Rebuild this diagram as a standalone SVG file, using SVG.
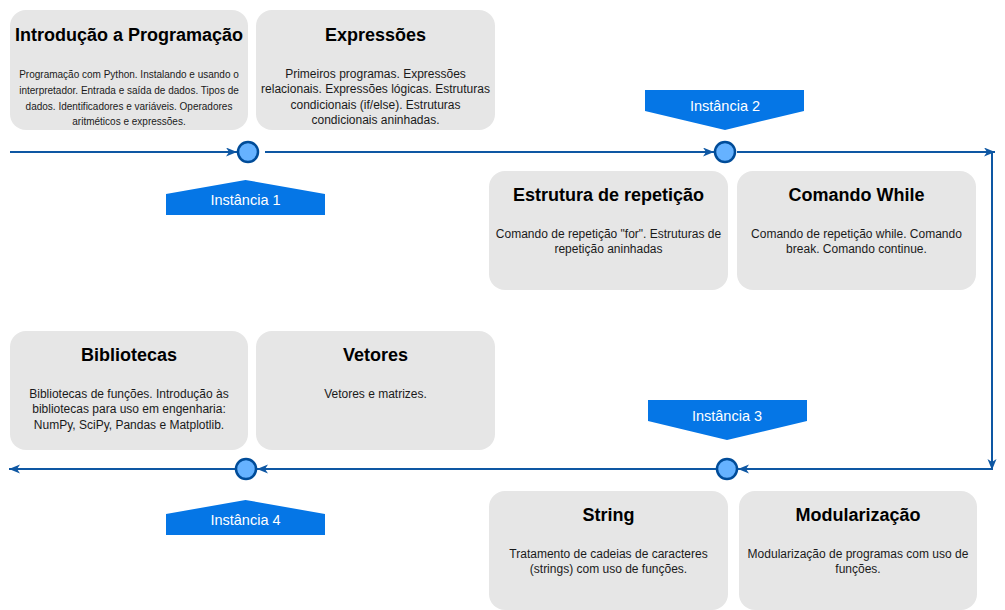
<svg xmlns="http://www.w3.org/2000/svg" width="1005" height="610" viewBox="0 0 1005 610">
<style>
.box{fill:#E6E6E6;}
.t{font-family:"Liberation Sans",Arial,sans-serif;font-weight:bold;font-size:18px;fill:#000;text-anchor:middle;}
.d{font-family:"Liberation Sans",Arial,sans-serif;font-size:12px;fill:#1a1a1a;text-anchor:middle;}
.ds{font-family:"Liberation Sans",Arial,sans-serif;font-size:10px;fill:#1a1a1a;text-anchor:middle;}
.lbl{fill:#0576E6;}
.lt{font-family:"Liberation Sans",Arial,sans-serif;font-size:14.5px;fill:#fff;text-anchor:middle;}
.ln{stroke:#0E57A3;stroke-width:2;fill:none;marker-end:url(#ah);}
.dot{fill:#66B2FF;stroke:#004C99;stroke-width:2.5;}
</style>
<defs>
<marker id="ah" markerUnits="userSpaceOnUse" markerWidth="12" markerHeight="10" refX="11" refY="4.5" orient="auto">
<path d="M0,0 L11,4.5 L0,9 L3,4.5 Z" fill="#0E57A3"/>
</marker>
</defs>
<rect width="1005" height="610" fill="#fff"/>
<g id="connectors">
<path class="ln" d="M10,152 L237,152"/>
<path class="ln" d="M265,152 L714,152"/>
<path class="ln" d="M737,152 L995,152"/>
<path class="ln" d="M992,152 L992,470"/>
<path class="ln" d="M992,469 L738,469"/>
<path class="ln" d="M716,469 L257,469"/>
<path class="ln" d="M235,469 L9,469"/>
</g>
<g id="dot1"><circle class="dot" cx="248" cy="152" r="10"/></g>
<g id="dot2"><circle class="dot" cx="725" cy="152" r="10"/></g>
<g id="dot3"><circle class="dot" cx="727" cy="469" r="10"/></g>
<g id="dot4"><circle class="dot" cx="246" cy="469" r="10"/></g>
<g id="inst1"><path class="lbl" d="M166,194 L245.5,180 L325,194 L325,215 L166,215 Z"/><text class="lt" x="245.5" y="205">Instância 1</text></g>
<g id="inst2"><path class="lbl" d="M645,90 L804,90 L804,111 L725,130 L645,111 Z"/><text class="lt" x="725" y="111">Instância 2</text></g>
<g id="inst3"><path class="lbl" d="M648,400 L807,400 L807,421 L727,440 L648,421 Z"/><text class="lt" x="727" y="421">Instância 3</text></g>
<g id="inst4"><path class="lbl" d="M166,514 L245.5,500 L325,514 L325,535 L166,535 Z"/><text class="lt" x="245.5" y="525">Instância 4</text></g>
<g id="intro">
<rect class="box" x="10" y="10" width="238" height="120" rx="16"/>
<text class="t" x="129" y="41">Introdução a Programação</text>
<text class="ds" x="129" y="78">Programação com Python. Instalando e usando o</text>
<text class="ds" x="129" y="94">interpretador. Entrada e saída de dados. Tipos de</text>
<text class="ds" x="129" y="110">dados. Identificadores e variáveis. Operadores</text>
<text class="ds" x="129" y="125">aritméticos e expressões.</text>
</g>
<g id="expressoes">
<rect class="box" x="256" y="10" width="239" height="120" rx="16"/>
<text class="t" x="375.5" y="41">Expressões</text>
<text class="d" x="375.5" y="78">Primeiros programas. Expressões</text>
<text class="d" x="375.5" y="93">relacionais. Expressões lógicas. Estruturas</text>
<text class="d" x="375.5" y="109">condicionais (if/else). Estruturas</text>
<text class="d" x="375.5" y="124">condicionais aninhadas.</text>
</g>
<g id="repeticao">
<rect class="box" x="489" y="171" width="239" height="119" rx="16"/>
<text class="t" x="608.5" y="201">Estrutura de repetição</text>
<text class="d" x="608.5" y="238">Comando de repetição "for". Estruturas de</text>
<text class="d" x="608.5" y="253">repetição aninhadas</text>
</g>
<g id="while">
<rect class="box" x="737" y="171" width="239" height="119" rx="16"/>
<text class="t" x="856.5" y="201">Comando While</text>
<text class="d" x="856.5" y="238">Comando de repetição while. Comando</text>
<text class="d" x="856.5" y="253">break. Comando continue.</text>
</g>
<g id="bibliotecas">
<rect class="box" x="10" y="331" width="238" height="119" rx="16"/>
<text class="t" x="129" y="361">Bibliotecas</text>
<text class="d" x="129" y="398">Bibliotecas de funções. Introdução às</text>
<text class="d" x="129" y="413">bibliotecas para uso em engenharia:</text>
<text class="d" x="129" y="429">NumPy, SciPy, Pandas e Matplotlib.</text>
</g>
<g id="vetores">
<rect class="box" x="256" y="331" width="239" height="119" rx="16"/>
<text class="t" x="375.5" y="361">Vetores</text>
<text class="d" x="375.5" y="398">Vetores e matrizes.</text>
</g>
<g id="string">
<rect class="box" x="489" y="491" width="239" height="119" rx="16"/>
<text class="t" x="608.5" y="521">String</text>
<text class="d" x="608.5" y="558">Tratamento de cadeias de caracteres</text>
<text class="d" x="608.5" y="573">(strings) com uso de funções.</text>
</g>
<g id="modularizacao">
<rect class="box" x="739" y="491" width="238" height="119" rx="16"/>
<text class="t" x="858" y="521">Modularização</text>
<text class="d" x="858" y="558">Modularização de programas com uso de</text>
<text class="d" x="858" y="573">funções.</text>
</g>
</svg>
